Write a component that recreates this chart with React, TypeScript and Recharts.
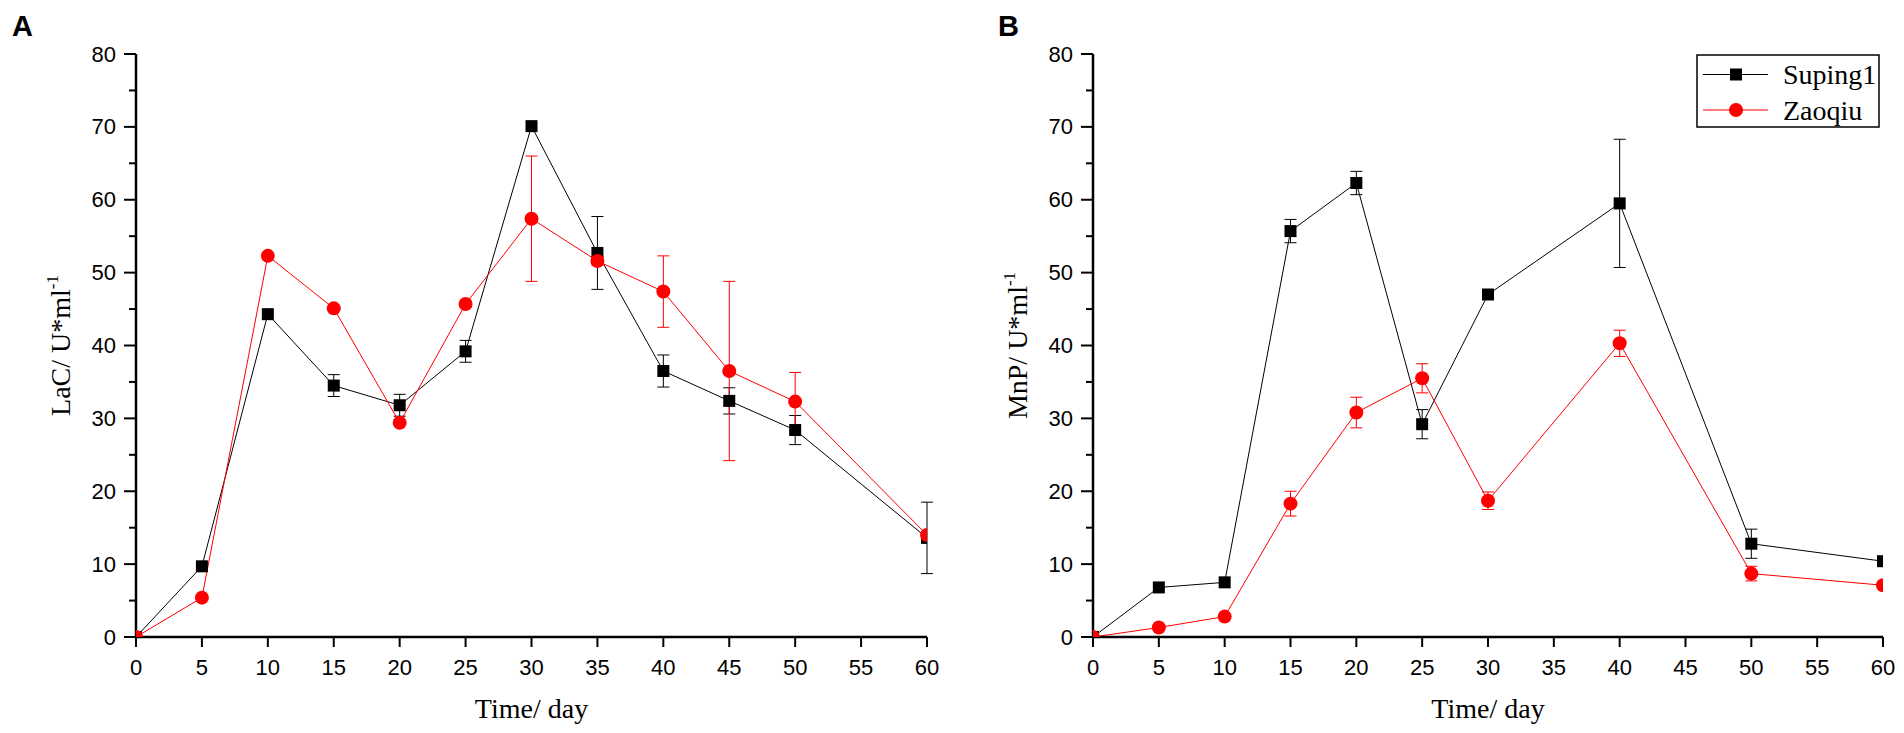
import React from 'react';
import { LineChart, Line, XAxis, YAxis, ErrorBar, Label } from 'recharts';

// ---------- data ----------
const seriesNames = ['Suping1', 'Zaoqiu'];
const xTicks = [0, 5, 10, 15, 20, 25, 30, 35, 40, 45, 50, 55, 60];
const yTicks = [0, 5, 10, 15, 20, 25, 30, 35, 40, 45, 50, 55, 60, 65, 70, 75, 80];

// Panel A: LaC
const daysA = [0, 5, 10, 15, 20, 25, 30, 35, 40, 45, 50, 60];
const lacSuping = [0, 9.7, 44.3, 34.5, 31.8, 39.2, 70.1, 52.7, 36.5, 32.4, 28.4, 13.6];
const lacSupingErr = [0, 0, 0, 1.5, 1.5, 1.5, 0, 5.0, 2.2, 1.8, 2.0, 4.9];
const lacZaoqiu = [0, 5.4, 52.3, 45.1, 29.4, 45.7, 57.4, 51.6, 47.4, 36.5, 32.3, 14.0];
const lacZaoqiuErr = [0, 0, 0, 0, 0, 0, 8.6, 0.6, 4.9, 12.3, 4.0, 0];

// Panel B: MnP
const daysB = [0, 5, 10, 15, 20, 25, 30, 40, 50, 60];
const mnpSuping = [0, 6.8, 7.5, 55.7, 62.3, 29.2, 47.0, 59.5, 12.8, 10.4];
const mnpSupingErr = [0, 0, 0, 1.6, 1.6, 2.0, 0, 8.8, 2.0, 0];
const mnpZaoqiu = [0, 1.3, 2.8, 18.3, 30.8, 35.5, 18.7, 40.3, 8.7, 7.1];
const mnpZaoqiuErr = [0, 0, 0, 1.7, 2.1, 2.0, 1.2, 1.8, 1.0, 0];

const rowsA = daysA.map((d, i) => ({
  day: d, s: lacSuping[i], sErr: lacSupingErr[i], z: lacZaoqiu[i], zErr: lacZaoqiuErr[i],
}));
const rowsB = daysB.map((d, i) => ({
  day: d, s: mnpSuping[i], sErr: mnpSupingErr[i], z: mnpZaoqiu[i], zErr: mnpZaoqiuErr[i],
}));

// ---------- styles ----------
const SANS = '"Liberation Sans", Arial, Helvetica, sans-serif';
const SERIF = '"Liberation Serif", "Times New Roman", Times, serif';
const BLACK = '#000000';
const RED = '#ff0000';

const YTick = (props: any) => {
  const { x, y, payload } = props;
  const v = payload.value;
  const major = v % 10 === 0;
  return (
    <g>
      <line x1={x} y1={y} x2={x - (major ? 12 : 7)} y2={y} stroke={BLACK} strokeWidth={2} />
      {major && (
        <text x={x - 20} y={y} textAnchor="end" dominantBaseline="central" fontSize={22} fontFamily={SANS} fill={BLACK}>
          {v}
        </text>
      )}
    </g>
  );
};

const XTick = (props: any) => {
  const { x, y, payload } = props;
  return (
    <g>
      <line x1={x} y1={y} x2={x} y2={y + 10} stroke={BLACK} strokeWidth={2} />
      <text x={x} y={y + 30} textAnchor="middle" dominantBaseline="central" fontSize={22} fontFamily={SANS} fill={BLACK}>
        {payload.value}
      </text>
    </g>
  );
};

const SquareDot = (props: any) => {
  const { cx, cy, index } = props;
  if (cx == null || cy == null) return <g key={index} />;
  return <rect key={index} x={cx - 6} y={cy - 6} width={12} height={12} fill={BLACK} />;
};

const CircleDot = (props: any) => {
  const { cx, cy, index } = props;
  if (cx == null || cy == null) return <g key={index} />;
  return <circle key={index} cx={cx} cy={cy} r={7} fill={RED} />;
};

const makeXTitle = (plotLeft: number, plotRight: number, axisY: number) => () => (
  <text x={(plotLeft + plotRight) / 2} y={axisY + 81} textAnchor="middle" fontSize={28} fontFamily={SERIF} fill={BLACK}>
    Time/ day
  </text>
);

const makeYTitle = (main: string, plotLeft: number, top: number, bottom: number) => () => {
  const cx = plotLeft - 66;
  const cy = (top + bottom) / 2;
  return (
    <text transform={`rotate(-90 ${cx} ${cy})`} x={cx} y={cy} textAnchor="middle" fontSize={28} fontFamily={SERIF} fill={BLACK}>
      {main}
      <tspan fontSize={17} dy={-12}>-1</tspan>
    </text>
  );
};

const PLOT_TOP = 54;
const PLOT_BOTTOM = 637;
const H = 733;

const Panel = (p: {
  rows: any[]; width: number; axisWidth: number; right: number; yTitle: string; offsetLeft: number;
}) => {
  const plotLeft = p.axisWidth;
  const plotRight = p.width - p.right;
  return (
    <LineChart
      width={p.width}
      height={H}
      data={p.rows}
      margin={{ top: PLOT_TOP, right: p.right, left: 0, bottom: 0 }}
    >
      <XAxis
        dataKey="day"
        type="number"
        domain={[0, 60]}
        ticks={xTicks}
        interval={0}
        allowDataOverflow
        height={H - PLOT_BOTTOM}
        tickSize={0}
        tickMargin={0}
        tickLine={false}
        tick={<XTick />}
        axisLine={{ stroke: BLACK, strokeWidth: 2.5 }}
      >
        <Label content={makeXTitle(plotLeft, plotRight, PLOT_BOTTOM)} />
      </XAxis>
      <YAxis
        type="number"
        domain={[0, 80]}
        ticks={yTicks}
        interval={0}
        allowDataOverflow
        width={p.axisWidth}
        tickSize={0}
        tickMargin={0}
        tickLine={false}
        tick={<YTick />}
        axisLine={{ stroke: BLACK, strokeWidth: 2.5 }}
      >
        <Label content={makeYTitle(p.yTitle, plotLeft, PLOT_TOP, PLOT_BOTTOM)} />
      </YAxis>
      <Line
        type="linear"
        dataKey="s"
        name={seriesNames[0]}
        stroke={BLACK}
        strokeWidth={1}
        dot={SquareDot}
        activeDot={false}
        isAnimationActive={false}
      >
        <ErrorBar dataKey="sErr" direction="y" width={6} stroke={BLACK} strokeWidth={1} isAnimationActive={false} />
      </Line>
      <Line
        type="linear"
        dataKey="z"
        name={seriesNames[1]}
        stroke={RED}
        strokeWidth={1}
        dot={CircleDot}
        activeDot={false}
        isAnimationActive={false}
      >
        <ErrorBar dataKey="zErr" direction="y" width={6} stroke={RED} strokeWidth={1} isAnimationActive={false} />
      </Line>
    </LineChart>
  );
};

const LegendBox = () => {
  const rowsY = [20.5, 56];
  return (
    <svg width={184} height={74} style={{ position: 'absolute', left: 1696, top: 54 }}>
      <rect x={1} y={1} width={182} height={72} fill="#ffffff" stroke={BLACK} strokeWidth={1.5} />
      {seriesNames.map((n, i) => (
        <g key={n}>
          <line x1={7} y1={rowsY[i]} x2={72} y2={rowsY[i]} stroke={i === 0 ? BLACK : RED} strokeWidth={1} />
          {i === 0 ? (
            <rect x={40 - 6} y={rowsY[i] - 6} width={12} height={12} fill={BLACK} />
          ) : (
            <circle cx={40} cy={rowsY[i]} r={7} fill={RED} />
          )}
          <text x={87} y={rowsY[i]} dominantBaseline="central" fontSize={28} fontFamily={SERIF} fill={BLACK}>
            {n}
          </text>
        </g>
      ))}
    </svg>
  );
};

export default function App() {
  return (
    <div style={{ position: 'absolute', left: 0, top: 0, width: 1904, height: H, background: '#ffffff', overflow: 'hidden' }}>
      <div style={{ position: 'absolute', left: 0, top: 0 }}>
        <Panel rows={rowsA} width={960} axisWidth={136} right={33} yTitle="LaC/ U*ml" offsetLeft={0} />
      </div>
      <div style={{ position: 'absolute', left: 960, top: 0 }}>
        <Panel rows={rowsB} width={944} axisWidth={133} right={21} yTitle="MnP/ U*ml" offsetLeft={960} />
      </div>
      <svg width={1904} height={60} style={{ position: 'absolute', left: 0, top: 0, pointerEvents: 'none' }}>
        <text x={12} y={36} fontSize={29} fontWeight="bold" fontFamily={SANS} fill={BLACK}>A</text>
        <text x={998} y={36} fontSize={29} fontWeight="bold" fontFamily={SANS} fill={BLACK}>B</text>
      </svg>
      <LegendBox />
    </div>
  );
}
